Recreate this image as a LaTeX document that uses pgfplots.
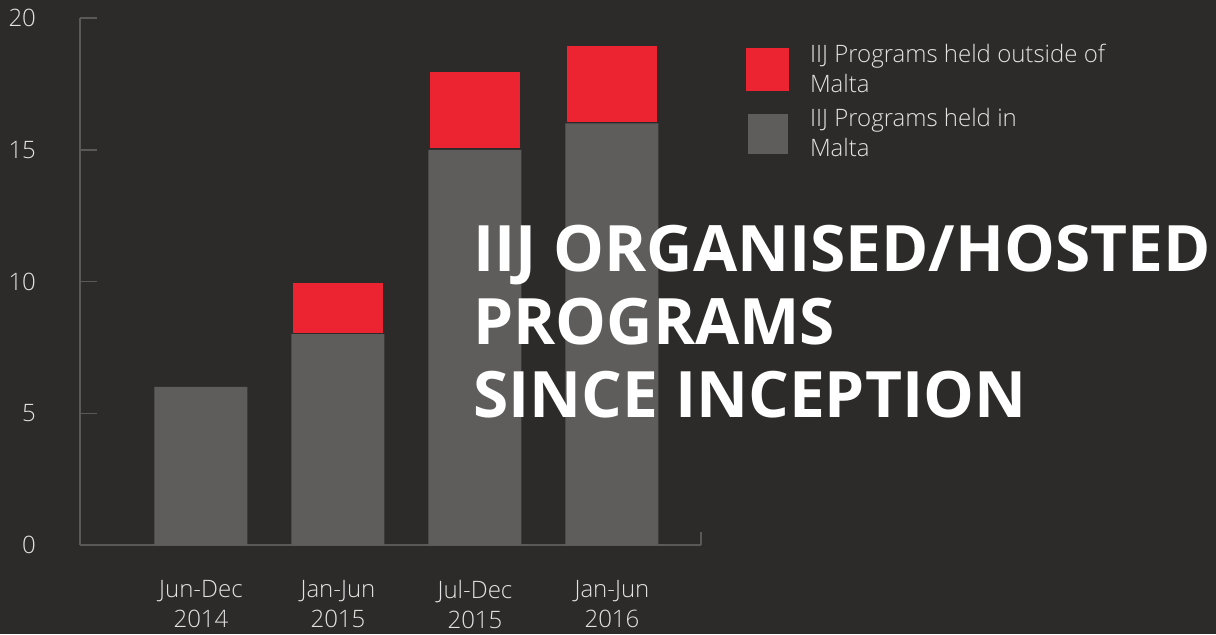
\documentclass[border=0pt]{standalone}
\usepackage{fontspec}
\setmainfont{Open Sans}[UprightFont=* Light, BoldFont=* Bold]
\usepackage{pgfplots}
\pgfplotsset{compat=1.18}
\definecolor{bg}{HTML}{2D2B29}
\definecolor{bargray}{HTML}{5E5D5B}
\definecolor{barred}{HTML}{EC2330}
\definecolor{linecol}{HTML}{5A5957}
\definecolor{txtcol}{HTML}{E2E2E2}
\begin{document}
\begin{tikzpicture}[x=1pt,y=1pt]
\fill[bg] (-40,-44.5) rectangle (568,272.5);
\begin{axis}[
  scale only axis, width=310.5pt, height=263.5pt,
  xmin=-0.883, xmax=3.65, ymin=0, ymax=20,
  ybar stacked, bar width=46.5pt,
  axis lines*=left,
  axis line style={linecol, line width=0.75pt},
  tick align=inside,
  /pgf/number format/assume math mode=true,
  ytick={0,5,10,15,20},
  ytick style={linecol, line width=0.75pt},
  major tick length=8.5pt,
  yticklabel style={text=txtcol, font=\fontsize{12}{15}\selectfont, xshift=-18.5pt},
  xtick={0,1,2,3},
  xticklabels={{Jun-Dec\\2014},{Jan-Jun\\2015},{Jul-Dec\\2015},{Jan-Jun\\2016}},
  xtick style={draw=none},
  xticklabel style={text=txtcol, align=center, font=\fontsize{12}{15}\selectfont, yshift=-14pt},
  extra x ticks={-0.883,3.65},
  extra x tick labels={},
  extra x tick style={xtick style={draw=linecol, line width=0.75pt}, major tick length=6.5pt},
  legend style={at={(1.0725,0.951)}, anchor=north west, draw=none, fill=none,
    inner sep=0pt, outer sep=0pt, row sep=6.5pt, column sep=10.5pt,
    nodes={inner sep=0pt, anchor=west, align=left, text=txtcol, font=\fontsize{12}{15}\selectfont}},
  legend cell align=left,
  reverse legend,
]
\addplot[fill=bargray, draw=none,
  legend image code/.code={\fill[bargray] (0pt,-10pt) rectangle (20pt,10pt);}]
  coordinates {(0,6) (1,8) (2,15) (3,16)};
\addlegendentry{IIJ Programs held in\\Malta}
\addplot[fill=barred, draw=bg, line width=1.5pt,
  legend image code/.code={\fill[barred] (0pt,-10pt) rectangle (20pt,10pt);}]
  coordinates {(0,0) (1,2) (2,3) (3,3)};
\addlegendentry{IIJ Programs held outside of\\Malta}
\end{axis}
\node[anchor=base west, align=left, text=white, inner sep=0pt,
  font=\fontsize{32}{36.5}\selectfont\bfseries]
  at (196.5,64) {IIJ ORGANISED/HOSTED\\PROGRAMS\\SINCE INCEPTION};
\pgfresetboundingbox
\useasboundingbox (-40,-44.5) rectangle (568,272.5);
\end{tikzpicture}
\end{document}
